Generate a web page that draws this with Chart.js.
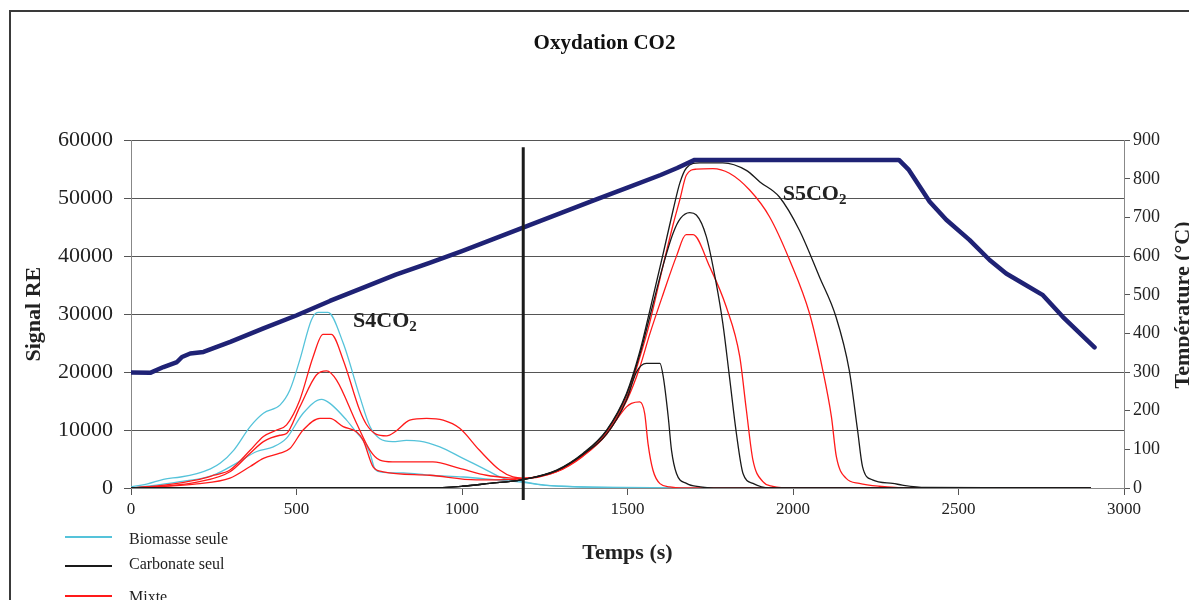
<!DOCTYPE html>
<html lang="fr">
<head>
<meta charset="utf-8">
<title>Oxydation CO2</title>
<script src="https://cdn.jsdelivr.net/npm/chart.js@4.4.1/dist/chart.umd.min.js"></script>
<style>
  html, body { margin: 0; padding: 0; background: #fff; overflow: hidden; }
  #wrap { position: relative; width: 1189px; height: 600px; overflow: hidden; }
  #frame { position: absolute; left: 9px; top: 10px; width: 1300px; height: 700px;
           border: 2px solid #3a3a3a; box-sizing: border-box; }
  #chart { position: absolute; left: 0; top: 0; }
  .leg { position: absolute; left: 0; font-family: "Liberation Serif", serif; font-size: 16px; color: #222; }
  .leg span.line { position: absolute; left: 65px; width: 47px; height: 2px; top: -1px; }
  .leg span.txt { position: absolute; left: 129px; white-space: nowrap; transform: translateY(-50%); }
</style>
</head>
<body>
<div id="wrap">
  <div id="frame"></div>
  <canvas id="chart" width="1189" height="600"></canvas>
  <!-- legend, drawn in html -->
  <div class="leg" style="top:537px"><span class="line" style="background:#55c3da"></span><span class="txt" style="top:2px">Biomasse seule</span></div>
  <div class="leg" style="top:566px"><span class="line" style="background:#1a1a1a"></span><span class="txt" style="top:-2px">Carbonate seul</span></div>
  <div class="leg" style="top:596px"><span class="line" style="background:#ff1a1a"></span><span class="txt" style="top:1px">Mixte</span></div>
</div>
<script>
// time (s) / value pairs
const temperature = [[0,299],[58,298],[98,313],[139,326],[154,339],[179,348],[219,352],[300,378],[400,413],
  [501,447],[601,484],[700,518],[800,552],[900,582],[1000,613],[1100,646],[1200,679],[1300,712],[1400,745],
  [1500,777],[1600,810],[1650,828],[1703,849],[2320,849],[2350,823],[2413,741],[2463,694],[2533,642],
  [2594,590],[2644,555],[2694,530],[2755,499],[2815,443],[2911,364]];

const biomasse1 = [[0,200],[50,700],[98,1500],[150,1900],[199,2500],[240,3300],[270,4300],[310,6500],
  [360,10600],[400,12900],[450,14300],[480,16900],[510,22100],[545,29000],[565,30300],[595,30300],
  [641,25000],[691,15800],[722,10600],[752,8500],[790,8000],[832,8200],[872,8100],[933,7100],[1003,5100],
  [1064,3400],[1124,1700],[1185,1100],[1245,500],[1300,300],[1400,150],[1600,50],[2000,0],[2300,0]];

const biomasse2 = [[0,0],[50,300],[148,1100],[248,2200],[319,4300],[380,6300],[430,7100],[470,8600],
  [520,12900],[576,15300],[601,14600],[650,11800],[681,9600],[700,8300],[722,6000],[735,3500],[752,2800],
  [823,2600],[903,2200],[1004,1900],[1104,1400],[1164,1100],[1250,500],[1350,200],[1500,50],[2000,0],[2300,0]];

const mixte1 = [[0,0],[100,500],[199,1400],[250,2200],[299,3100],[360,6500],[400,8900],[440,10000],
  [470,10900],[510,15200],[550,22600],[580,26500],[605,26500],[641,22100],[691,13400],[711,11000],
  [740,9300],[772,9000],[800,9800],[842,11700],[893,12000],[943,11700],[993,10300],[1053,6500],[1114,3100],
  [1154,1900],[1185,1700],[1286,2900],[1366,5700],[1437,9600],[1497,15600],[1537,22500],[1567,28500],
  [1608,38500],[1638,45500],[1658,49700],[1678,54000],[1708,55000],[1758,55100],[1808,54300],[1869,51400],
  [1929,46800],[1990,39300],[2050,30100],[2090,20300],[2116,12300],[2131,5400],[2160,1700],[2200,800],
  [2260,300],[2350,0],[2900,0]];

const mixte2 = [[0,0],[100,300],[199,1000],[299,2800],[360,6000],[400,8000],[450,9100],[470,9400],
  [510,14000],[560,19500],[591,20200],[621,18600],[681,11200],[722,6500],[752,4800],[790,4500],[842,4500],
  [912,4500],[993,3400],[1074,2200],[1154,1700],[1185,1600],[1286,2800],[1366,5500],[1437,9300],
  [1497,15000],[1537,20800],[1567,26500],[1608,33500],[1648,40000],[1677,43700],[1698,43700],[1748,38200],
  [1798,31300],[1839,22700],[1859,13500],[1879,4800],[1909,1100],[1939,300],[2000,0],[2900,0]];

const mixte3 = [[0,0],[100,300],[199,700],[299,1700],[360,3700],[400,5100],[450,6000],[480,6800],
  [520,10000],[571,12000],[601,12000],[641,10600],[681,9700],[701,8300],[732,3600],[762,2800],[903,2200],
  [1043,1400],[1154,1500],[1185,1600],[1286,2800],[1366,5600],[1437,9400],[1467,11800],[1497,14000],
  [1512,14600],[1537,14850],[1552,12850],[1562,7670],[1577,3060],[1598,760],[1628,200],[1660,0],[2900,0]];

const carbonate1 = [[0,0],[900,0],[1000,300],[1084,800],[1179,1400],[1286,3100],[1366,6000],[1437,10000],
  [1497,16300],[1537,23500],[1567,30500],[1608,40500],[1638,48000],[1658,52600],[1678,55200],[1718,56100],
  [1788,56100],[1859,54800],[1900,52800],[1959,50200],[2019,44500],[2080,36400],[2130,29500],[2170,20300],
  [2195,10000],[2210,3700],[2240,1400],[2301,800],[2330,500],[2400,100],[2900,0]];

const carbonate2 = [[0,0],[900,0],[1000,300],[1084,800],[1179,1400],[1286,3000],[1366,5900],[1437,9900],
  [1497,16100],[1537,23000],[1567,29500],[1608,38500],[1638,44000],[1660,46500],[1688,47500],[1708,47100],
  [1738,43400],[1768,35300],[1788,28400],[1808,19200],[1829,9400],[1849,2500],[1879,800],[1929,0],[2900,0]];

const carbonate3 = [[0,0],[900,0],[1000,300],[1084,800],[1179,1400],[1286,3000],[1366,5800],[1437,9300],
  [1497,15200],[1527,20000],[1557,21500],[1598,21500],[1608,19200],[1623,12300],[1633,6500],[1648,2500],
  [1678,800],[1720,200],[1760,0],[2900,0]];

const separatorTime = 1185;

const serif = '"Liberation Serif", "Times New Roman", serif';
Chart.defaults.font.family = serif;
Chart.defaults.color = '#222';

function pts(arr) { return arr.map(p => ({x: p[0], y: p[1]})); }

function signal(arr, color) {
  return {
    data: pts(arr), borderColor: color, borderWidth: 1.3, pointRadius: 0,
    cubicInterpolationMode: 'monotone', yAxisID: 'y'
  };
}

const datasets = [
  { data: pts(temperature), borderColor: '#1f2275', borderWidth: 4.5, pointRadius: 0,
    borderJoinStyle: 'round', borderCapStyle: 'round', tension: 0, yAxisID: 'y2' },
  signal(carbonate1, '#1a1a1a'),
  signal(carbonate2, '#1a1a1a'),
  signal(carbonate3, '#1a1a1a'),
  signal(mixte1, '#ff1a1a'),
  signal(mixte2, '#ff1a1a'),
  signal(mixte3, '#ff1a1a'),
  signal(biomasse1, '#55c3da'),
  signal(biomasse2, '#55c3da')
];

const plain = v => String(v);

// separator line, S4CO2 / S5CO2 labels and the right axis title
const extras = {
  id: 'extras',
  afterDatasetsDraw(chart) {
    const {ctx, chartArea, scales: {x, y}} = chart;
    ctx.save();
    const vx = x.getPixelForValue(separatorTime);
    ctx.strokeStyle = '#1b1b1b';
    ctx.lineWidth = 3;
    ctx.beginPath();
    ctx.moveTo(vx, y.getPixelForValue(58800));
    ctx.lineTo(vx, chartArea.bottom + 12);
    ctx.stroke();

    ctx.fillStyle = '#222';
    ctx.textBaseline = 'alphabetic';
    ctx.textAlign = 'left';
    [[671, 27750, 'S4CO'], [1969, 49690, 'S5CO']].forEach(l => {
      const px = x.getPixelForValue(l[0]), py = y.getPixelForValue(l[1]);
      ctx.font = 'bold 22px ' + serif;
      ctx.fillText(l[2], px, py);
      const w = ctx.measureText(l[2]).width;
      ctx.font = 'bold 15px ' + serif;
      ctx.fillText('2', px + w, py + 4);
    });
    ctx.restore();
  },
  afterDraw(chart) {
    const ctx = chart.ctx;
    ctx.save();
    ctx.translate(chart.width, 305);
    ctx.rotate(-Math.PI / 2);
    ctx.font = 'bold 22px ' + serif;
    ctx.fillStyle = '#222';
    ctx.textAlign = 'center';
    ctx.textBaseline = 'alphabetic';
    ctx.fillText('Température (°C)', 0, 0);
    ctx.restore();
  }
};

new Chart(document.getElementById('chart'), {
  type: 'line',
  data: { datasets },
  options: {
    responsive: false,
    animation: false,
    layout: { padding: { left: 20, top: 0, right: 0, bottom: 0 } },
    plugins: {
      legend: { display: false },
      tooltip: { enabled: false },
      title: {
        display: true, text: 'Oxydation CO2', color: '#111',
        font: { size: 21, weight: 'bold' },
        padding: { top: 31, bottom: 84 }
      }
    },
    scales: {
      x: {
        type: 'linear', min: 0, max: 3000,
        ticks: { stepSize: 500, padding: 4, font: { size: 17 }, maxRotation: 0, callback: plain },
        grid: { drawOnChartArea: false, tickLength: 7, color: '#555' },
        border: { color: '#888' },
        title: { display: true, text: 'Temps (s)', font: { size: 22, weight: 'bold' },
                 padding: { top: 0, bottom: 33 } },
        afterFit(s) { s.height = 112; }
      },
      y: {
        min: 0, max: 60000,
        ticks: { stepSize: 10000, padding: 11, font: { size: 22 }, callback: plain },
        grid: { color: '#555', tickLength: 7 },
        border: { color: '#888' },
        title: { display: true, text: 'Signal RE', font: { size: 22, weight: 'bold' },
                 padding: { top: 1, bottom: 0 } },
        afterFit(s) { s.width = 111; }
      },
      y2: {
        position: 'right', min: 0, max: 900,
        ticks: { stepSize: 100, padding: 3, font: { size: 18 }, callback: plain },
        grid: { drawOnChartArea: false, tickLength: 6, color: '#555' },
        border: { color: '#888' },
        afterFit(s) { s.width = 65; }
      }
    }
  },
  plugins: [extras]
});
</script>
</body>
</html>
